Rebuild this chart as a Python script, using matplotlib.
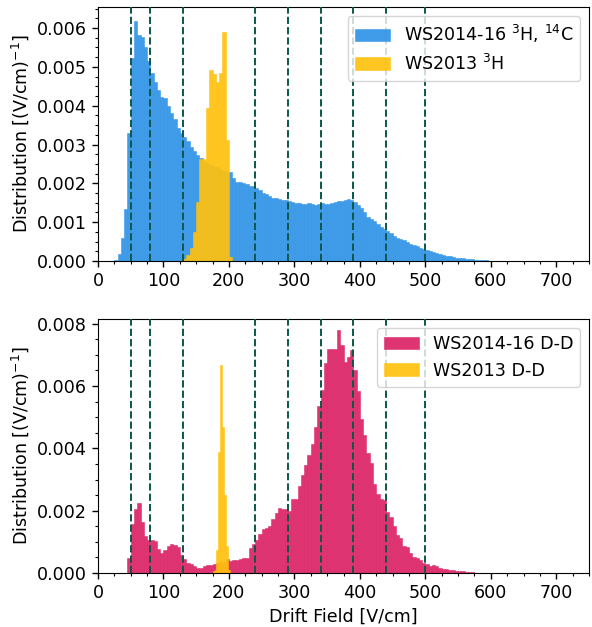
import numpy as np
import matplotlib.pyplot as plt
from matplotlib.ticker import AutoMinorLocator

# left bin edges, 5 V/cm bins (15 ... 700)
starts_main = np.arange(15, 705, 5)

# WS2014-16 3H, 14C
ws1416_tritium = [
    0.000005, 0.00001, 0.00002, 0.00017, 0.00058, 0.00134, 0.00329, 0.00524, 0.00619, 0.00582,
    0.00576, 0.00552, 0.00514, 0.00484, 0.00460, 0.00441, 0.00422, 0.00419, 0.00398, 0.00382,
    0.00365, 0.00342, 0.00329, 0.00320, 0.00308, 0.00293, 0.00284, 0.00273, 0.00265, 0.00258,
    0.00252, 0.00246, 0.00243, 0.00241, 0.00238, 0.00233, 0.00230, 0.00228, 0.00213, 0.00204,
    0.00203, 0.00200, 0.00198, 0.00194, 0.00193, 0.00187, 0.00183, 0.00176, 0.00172, 0.00168,
    0.00162, 0.00161, 0.00160, 0.00157, 0.00156, 0.00155, 0.00152, 0.00150, 0.00149, 0.00148,
    0.00147, 0.00149, 0.00148, 0.00145, 0.00146, 0.00149, 0.00147, 0.00148, 0.00149, 0.00151,
    0.00154, 0.00155, 0.00157, 0.00159, 0.00157, 0.00152, 0.00143, 0.00136, 0.00125, 0.00114,
    0.00107, 0.00104, 0.00095, 0.00088, 0.00083, 0.00077, 0.00071, 0.00064, 0.00060, 0.00057,
    0.00053, 0.00049, 0.00045, 0.00041, 0.00038, 0.00034, 0.00032, 0.00028, 0.00025, 0.00022,
    0.00020, 0.00018, 0.00015, 0.00014, 0.00012, 0.00010, 0.00009, 0.00008, 0.00007, 0.00006,
    0.00005, 0.00004, 0.000035, 0.00003, 0.00002, 0.000015, 0.00001, 0.000008, 0.000007, 0.000006,
    0.000006, 0.000005, 0.000005, 0.000004, 0.000004, 0.000004, 0.000003, 0.000003, 0.000003, 0.000003,
    0.000002, 0.000002, 0.000002, 0.000002, 0.000002, 0.000001, 0.000001, 0.000001,
]

# WS2013 3H (5 V/cm bins, 130 ... 200)
starts_ws13_tritium = np.arange(130, 205, 5)
ws13_tritium = [0.00006, 0.00015, 0.00034, 0.00074, 0.00153, 0.00262, 0.00262, 0.00393,
                0.00492, 0.00482, 0.00462, 0.00484, 0.00589, 0.00312, 0.00011]

# WS2014-16 D-D
ws1416_dd = [
    0.00001, 0.00001, 0.00001, 0.00001, 0.00001, 0.00001, 0.00049, 0.00156, 0.00207, 0.00224,
    0.00164, 0.00118, 0.00105, 0.00105, 0.00103, 0.00077, 0.00065, 0.00075, 0.00088, 0.00093,
    0.00090, 0.00084, 0.00059, 0.00046, 0.00033, 0.00029, 0.00021, 0.00017, 0.00016, 0.00021,
    0.00025, 0.00025, 0.00030, 0.00032, 0.00035, 0.00035, 0.00046, 0.00039, 0.00041, 0.00042,
    0.00045, 0.00049, 0.00049, 0.00080, 0.00094, 0.00107, 0.00126, 0.00140, 0.00145, 0.00150,
    0.00173, 0.00193, 0.00210, 0.00207, 0.00204, 0.00199, 0.00238, 0.00239, 0.00280, 0.00313,
    0.00345, 0.00379, 0.00414, 0.00467, 0.00536, 0.00587, 0.00673, 0.00720, 0.00720, 0.00718,
    0.00780, 0.00731, 0.00678, 0.00692, 0.00714, 0.00650, 0.00584, 0.00494, 0.00443, 0.00386,
    0.00352, 0.00285, 0.00253, 0.00237, 0.00234, 0.00196, 0.00180, 0.00150, 0.00121, 0.00112,
    0.00088, 0.00084, 0.00064, 0.00050, 0.00047, 0.00043, 0.00033, 0.00028, 0.00023, 0.00025,
    0.00022, 0.00017, 0.00014, 0.00012, 0.00010, 0.00009, 0.00008, 0.00006, 0.00005, 0.00004,
    0.00003, 0.00002, 0.000015, 0.00001, 0.00001, 0.000008, 0.000007, 0.000006, 0.000005, 0.000005,
    0.000004, 0.000004, 0.000004, 0.000003, 0.000003, 0.000003, 0.000003, 0.000002, 0.000002, 0.000002,
    0.000002, 0.000002, 0.000002, 0.000001, 0.000001, 0.000001, 0.000001, 0.000001,
]

# WS2013 D-D (3 V/cm bins, 175 ... 199)
starts_ws13_dd = np.arange(175, 202, 3)
ws13_dd = [0.00005, 0.0001, 0.00073, 0.00389, 0.00668, 0.00467, 0.00249, 0.00086, 0.0001]

# field boundaries
field_lines = [50, 80, 130, 240, 290, 340, 390, 440, 500]

c_blue = '#3094e6'
c_yellow = '#ffc10e'
c_pink = '#dc2466'
c_line = '#0b5748'

plt.rcParams['font.family'] = 'DejaVu Sans'
plt.rcParams['font.size'] = 12.6

fig = plt.figure(figsize=(5.92, 6.27), dpi=100)
ax1 = fig.add_axes([0.1655, 0.5837, 0.8295, 0.4051])
ax2 = fig.add_axes([0.1655, 0.0861, 0.8295, 0.4051])


def draw_hist(ax, starts, vals, width, color, label):
    ax.bar(starts, vals, width=width, align='edge', color=color, alpha=0.92,
           edgecolor=color, linewidth=0.4, label=label)


draw_hist(ax1, starts_main, ws1416_tritium, 5, c_blue, 'WS2014-16 $^{3}$H, $^{14}$C')
draw_hist(ax1, starts_ws13_tritium, ws13_tritium, 5, c_yellow, 'WS2013 $^{3}$H')
draw_hist(ax2, starts_main, ws1416_dd, 5, c_pink, 'WS2014-16 D-D')
draw_hist(ax2, starts_ws13_dd, ws13_dd, 3, c_yellow, 'WS2013 D-D')

for ax in (ax1, ax2):
    for f in field_lines:
        ax.axvline(f, color=c_line, linestyle='--', linewidth=1.4, zorder=3)
    ax.set_xlim(0, 750)
    ax.set_ylabel('Distribution [(V/cm)$^{-1}$]')
    ax.xaxis.set_minor_locator(AutoMinorLocator(4))
    ax.yaxis.set_minor_locator(AutoMinorLocator(4))
    ax.tick_params(which='major', direction='out', length=4.5, width=1)
    ax.tick_params(which='minor', direction='out', length=2.5, width=0.8)
    ax.legend(loc='upper right', fontsize=12.6)

ax1.set_ylim(0, 0.00654)
ax2.set_ylim(0, 0.00815)
ax2.set_xlabel('Drift Field [V/cm]')

fig.savefig('out.png', dpi=100)
